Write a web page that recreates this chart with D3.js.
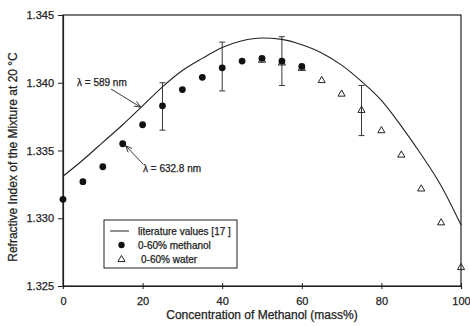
<!DOCTYPE html>
<html>
<head>
<meta charset="utf-8">
<script src="https://cdn.jsdelivr.net/npm/d3@7"></script>
<style>
  body { margin: 0; background: #fff; }
  svg { font-family: "Liberation Sans", Arial, sans-serif; }
  svg text { stroke: #222; stroke-width: 0.25px; }
</style>
</head>
<body>
<div id="chart"></div>
<script>
// literature curve (lambda = 589 nm)
const litX = [0, 5, 10, 15, 20, 25, 30, 35, 40, 45, 50, 55, 60, 65, 70, 75, 80, 85, 90, 95, 100];
const litY = [1.3331, 1.3343, 1.3356, 1.3369, 1.3383, 1.3397, 1.3409, 1.3418, 1.3426, 1.3431, 1.3433,
              1.3432, 1.3428, 1.3422, 1.3413, 1.3401, 1.3387, 1.3368, 1.3347, 1.3324, 1.3295];

// 0-60% methanol (filled circles)
const methX = [0, 5, 10, 15, 20, 25, 30, 35, 40, 45, 50, 55, 60];
const methY = [1.3314, 1.3327, 1.3338, 1.3355, 1.3369, 1.3383, 1.3395, 1.3404, 1.3411, 1.3416, 1.3418, 1.3416, 1.3412];

// 0-60% water (open triangles)
const waterX = [50, 55, 60, 65, 70, 75, 80, 85, 90, 95, 100];
const waterY = [1.3417, 1.3415, 1.3411, 1.3402, 1.3392, 1.3380, 1.3365, 1.3347, 1.3322, 1.3297, 1.3264];

// error bars
const errX = [25, 40, 55, 75];
const errLo = [1.3365, 1.3394, 1.3398, 1.3361];
const errHi = [1.3400, 1.3430, 1.3434, 1.3398];

const xTicks = [0, 20, 40, 60, 80, 100];
const yTicks = [1.325, 1.330, 1.335, 1.340, 1.345];

const W = 470, H = 326;
const margin = { top: 15, right: 9, bottom: 40, left: 63 };

const svg = d3.select("#chart").append("svg")
  .attr("width", W)
  .attr("height", H);

const x = d3.scaleLinear().domain([0, 100]).range([margin.left, W - margin.right]);
const y = d3.scaleLinear().domain([1.325, 1.345]).range([H - margin.bottom, margin.top]);

const ink = "#222";

// frame
svg.append("rect")
  .attr("x", x(0)).attr("y", y(1.345))
  .attr("width", x(100) - x(0)).attr("height", y(1.325) - y(1.345))
  .attr("fill", "none").attr("stroke", ink).attr("stroke-width", 1.2);

// y axis
const yAxis = svg.append("g")
  .attr("transform", `translate(${x(0)},0)`)
  .call(d3.axisLeft(y).tickValues(yTicks).tickFormat(d3.format(".3f")).tickSize(5).tickPadding(4));
yAxis.select(".domain").attr("stroke", ink).attr("stroke-width", 1.2);
yAxis.selectAll(".tick line").attr("stroke", ink);
yAxis.selectAll("text").attr("font-size", 11).attr("fill", ink)
  .attr("font-family", "Liberation Sans, Arial, sans-serif");

// x axis
const xAxis = svg.append("g")
  .attr("transform", `translate(0,${y(1.325)})`)
  .call(d3.axisBottom(x).tickValues(xTicks).tickSize(3).tickPadding(8));
xAxis.select(".domain").attr("stroke", ink).attr("stroke-width", 1.2);
xAxis.selectAll(".tick line").attr("stroke", ink).attr("y1", -3);
xAxis.selectAll("text").attr("font-size", 11).attr("fill", ink)
  .attr("font-family", "Liberation Sans, Arial, sans-serif");

// axis titles
svg.append("text")
  .attr("x", x(50)).attr("y", 319)
  .attr("text-anchor", "middle").attr("font-size", 12).attr("fill", ink)
  .text("Concentration of Methanol (mass%)");

svg.append("text")
  .attr("transform", "translate(17,157) rotate(-90)")
  .attr("text-anchor", "middle").attr("font-size", 12).attr("fill", ink)
  .text("Refractive Index of the Mixture at 20 \u00B0C");

// literature line
const litData = litX.map((d, i) => [d, litY[i]]);
svg.append("path")
  .datum(litData)
  .attr("fill", "none").attr("stroke", ink).attr("stroke-width", 1.1)
  .attr("d", d3.line().x(d => x(d[0])).y(d => y(d[1])).curve(d3.curveMonotoneX));

// error bars
errX.forEach((d, i) => {
  const g = svg.append("g").attr("stroke", ink).attr("stroke-width", 0.9);
  g.append("line").attr("x1", x(d)).attr("x2", x(d)).attr("y1", y(errLo[i])).attr("y2", y(errHi[i]));
  [errLo[i], errHi[i]].forEach(v => {
    g.append("line").attr("x1", x(d) - 3).attr("x2", x(d) + 3).attr("y1", y(v)).attr("y2", y(v));
  });
});

// water triangles
const tri = d3.symbol().type(d3.symbolTriangle).size(22);
svg.selectAll(".water")
  .data(waterX.map((d, i) => [d, waterY[i]]))
  .enter().append("path")
  .attr("class", "water")
  .attr("transform", d => `translate(${x(d[0])},${y(d[1]) + 0.5})`)
  .attr("d", tri)
  .attr("fill", "none").attr("stroke", ink).attr("stroke-width", 1);

// methanol circles
svg.selectAll(".meth")
  .data(methX.map((d, i) => [d, methY[i]]))
  .enter().append("circle")
  .attr("class", "meth")
  .attr("cx", d => x(d[0])).attr("cy", d => y(d[1]))
  .attr("r", 3.4).attr("fill", "#111");

// annotations with open arrowheads
function arrow(x1, y1, x2, y2) {
  const g = svg.append("g").attr("stroke", ink).attr("stroke-width", 0.9).attr("fill", "none");
  g.append("line").attr("x1", x1).attr("y1", y1).attr("x2", x2).attr("y2", y2);
  const a = Math.atan2(y2 - y1, x2 - x1), L = 7, s = 0.4;
  g.append("path").attr("d",
    `M${x2 - L * Math.cos(a - s)},${y2 - L * Math.sin(a - s)}L${x2},${y2}L${x2 - L * Math.cos(a + s)},${y2 - L * Math.sin(a + s)}`);
}

svg.append("text").attr("x", 77).attr("y", 86).attr("font-size", 10).attr("fill", ink)
  .text("\u03BB = 589 nm");
arrow(111, 89, x(19.5), y(1.3382));

svg.append("text").attr("x", 143).attr("y", 172).attr("font-size", 10).attr("fill", ink)
  .text("\u03BB = 632.8 nm");
arrow(143, 164, x(15) + 3, y(1.3355) + 2);

// legend
const lg = svg.append("g");
lg.append("rect").attr("x", 104).attr("y", 220).attr("width", 133).attr("height", 48)
  .attr("fill", "#fff").attr("stroke", ink).attr("stroke-width", 1);
lg.append("line").attr("x1", 110).attr("x2", 129).attr("y1", 231).attr("y2", 231)
  .attr("stroke", ink).attr("stroke-width", 1);
lg.append("text").attr("x", 138).attr("y", 234.5).attr("font-size", 10).attr("fill", ink)
  .text("literature values [17 ]");
lg.append("circle").attr("cx", 121.5).attr("cy", 245).attr("r", 3.2).attr("fill", "#111");
lg.append("text").attr("x", 138).attr("y", 248.5).attr("font-size", 10).attr("fill", ink)
  .text("0-60% methanol");
lg.append("path").attr("transform", "translate(121.5,259.5)").attr("d", tri)
  .attr("fill", "none").attr("stroke", ink).attr("stroke-width", 1);
lg.append("text").attr("x", 141).attr("y", 262.5).attr("font-size", 10).attr("fill", ink)
  .text("0-60% water");
</script>
</body>
</html>
